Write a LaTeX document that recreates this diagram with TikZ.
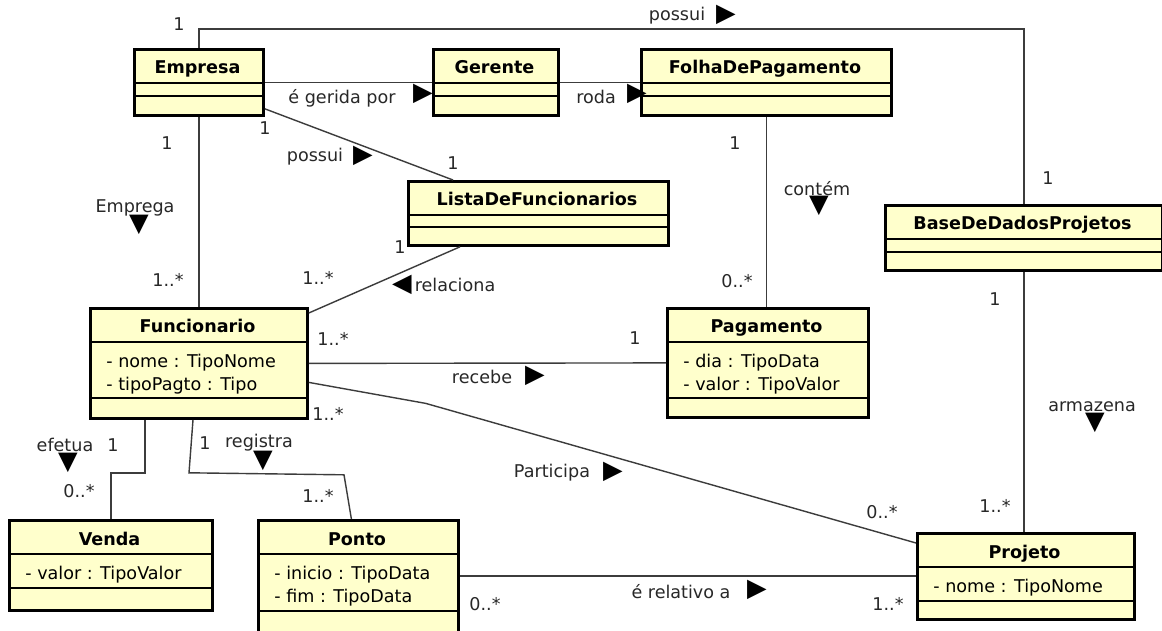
\documentclass[tikz,border=0pt]{standalone}
\usepackage{fontspec}
\setmainfont{DejaVu Sans}
\usetikzlibrary{calc}

\definecolor{classfill}{RGB}{255,255,204}
\definecolor{linegrey}{RGB}{60,60,60}
\definecolor{textgrey}{RGB}{40,40,40}

\tikzset{
    classbox/.style={draw=black, line width=1.6pt, fill=classfill, inner sep=0pt},
    classsep/.style={draw=black, line width=0.6pt},
    classname/.style={anchor=base, inner sep=0pt, font=\fontsize{10}{12}\selectfont\bfseries},
    classattr/.style={anchor=north west, inner sep=0pt, align=left, font=\fontsize{10}{12.8}\selectfont},
    assoc/.style={draw=linegrey, line width=0.8pt},
    mult/.style={inner sep=0pt, text=textgrey, font=\fontsize{10}{12}\selectfont},
    assocname/.style={mult},
    dirmark/.style={inner sep=0pt, font=\fontsize{14.5}{14.5}\selectfont},
}

% name, left, top, right, bottom, title, lower separator, attributes
\newcommand{\umlclass}[8]{%
    \node[classbox, anchor=north west, minimum width={(#4-#2)*0.02cm}, minimum height={(#5-#3)*0.02cm}] (#1) at (#2,#3) {};
    \draw[classsep] (#2,#3+35) -- (#4,#3+35) (#2,#7) -- (#4,#7);
    \node[classname] (#1-name) at ({(#2+#4)/2},#3+26) {#6};
    \node[classattr] (#1-attr) at (#2+17,#3+47) {#8};
}

\begin{document}
\begin{tikzpicture}[x=0.02cm, y=-0.02cm]
    \useasboundingbox[fill=white] (0,0) rectangle (1162,631);

    \umlclass{empresa}{133}{48}{262}{114}{Empresa}{96}{}
    \umlclass{gerente}{432}{48}{557}{114}{Gerente}{96}{}
    \umlclass{folha}{640}{48}{890}{114}{FolhaDePagamento}{96}{}
    \umlclass{lista}{407}{180}{667}{244}{ListaDeFuncionarios}{227}{}
    \umlclass{basedados}{884}{204}{1161}{269}{BaseDeDadosProjetos}{252}{}
    \umlclass{funcionario}{89}{307}{306}{417}{Funcionario}{398}{- nome : TipoNome\\- tipoPagto : Tipo}
    \umlclass{pagamento}{666}{307}{867}{416}{Pagamento}{398}{- dia : TipoData\\- valor : TipoValor}
    \umlclass{venda}{8}{519}{211}{609}{Venda}{588}{- valor : TipoValor}
    \umlclass{ponto}{257}{519}{457}{645}{Ponto}{611}{- inicio : TipoData\\- fim : TipoData}
    \umlclass{projeto}{916}{532}{1133}{618}{Projeto}{601}{- nome : TipoNome}

    \draw[assoc] (empresa.north) -- ++(0,-19) -| (basedados.north);
    \draw[assoc] (empresa.east) -- (gerente.west);
    \draw[assoc] (gerente.east) -- (folha.west);
    \draw[assoc] ($(empresa.south east)+(0,-8)$) -- ($(lista.north west)+(46,0)$);
    \draw[assoc] (empresa.south) -- (funcionario.north);
    \draw[assoc] ($(lista.south west)+(53,0)$) -- ($(funcionario.north east)+(0,6)$);
    \draw[assoc] (folha.south) -- (folha.south |- pagamento.north);
    \draw[assoc] (basedados.south) -- (basedados.south |- projeto.north);
    \draw[assoc] (funcionario.east) -- (pagamento.west);
    \draw[assoc] ($(funcionario.east)+(0,19)$) -- ++(117,21) -- ($(projeto.north west)+(0,11)$);
    \draw[assoc] ($(funcionario.south west)+(56,0)$) -- ++(0,53) -| (venda.north);
    \draw[assoc] ($(funcionario.south west)+(104,0)$) -- ++(-4,53) -- ++(155,2) -- ($(ponto.north)+(-7,0)$);
    \draw[assoc] ($(ponto.north east)+(0,57)$) -- ($(projeto.north west)+(0,44)$);

    \node[mult] (m1) at (179,24) {1};
    \node[mult] (m2) at (1048,178) {1};
    \node[mult] (m3) at (265,128) {1};
    \node[mult] (m4) at (453,163) {1};
    \node[mult] (m5) at (167,143) {1};
    \node[mult] (m6) at (168,280) {1..*};
    \node[mult] (m7) at (400,247) {1};
    \node[mult] (m8) at (318,278) {1..*};
    \node[mult] (m9) at (735,143) {1};
    \node[mult] (m10) at (737,281) {0..*};
    \node[mult] (m11) at (995,299) {1};
    \node[mult] (m12) at (995,506) {1..*};
    \node[mult] (m13) at (333,339) {1..*};
    \node[mult] (m14) at (635,338) {1};
    \node[mult] (m15) at (328,414) {1..*};
    \node[mult] (m16) at (882,512) {0..*};
    \node[mult] (m17) at (113,445) {1};
    \node[mult] (m18) at (79,491) {0..*};
    \node[mult] (m19) at (205,443) {1};
    \node[mult] (m20) at (318,496) {1..*};
    \node[mult] (m21) at (485,604) {0..*};
    \node[mult] (m22) at (888,604) {1..*};

    \node[assocname] (a1) at (677,16) {possui};
    \node[dirmark] (d1) at (726,15) {▶};
    \node[assocname] (a2) at (342,98) {é gerida por};
    \node[dirmark] (d2) at (423,94) {▶};
    \node[assocname] (a3) at (596,97) {roda};
    \node[dirmark] (d3) at (637,94) {▶};
    \node[assocname] (a4) at (315,157) {possui};
    \node[dirmark] (d4) at (363,156) {▶};
    \node[assocname] (a5) at (135,208) {Emprega};
    \node[dirmark] (d5) at (139,225) {▼};
    \node[assocname] (a6) at (455,285) {relaciona};
    \node[dirmark] (d6) at (402,285) {◀};
    \node[assocname] (a7) at (817,189) {contém};
    \node[dirmark] (d7) at (819,206) {▼};
    \node[assocname] (a8) at (1092,407) {armazena};
    \node[dirmark] (d8) at (1095,423) {▼};
    \node[assocname] (a9) at (482,377) {recebe};
    \node[dirmark] (d9) at (535,376) {▶};
    \node[assocname] (a10) at (552,473) {Participa};
    \node[dirmark] (d10) at (613,472) {▶};
    \node[assocname] (a11) at (65,445) {efetua};
    \node[dirmark] (d11) at (68,463) {▼};
    \node[assocname] (a12) at (259,443) {registra};
    \node[dirmark] (d12) at (263,461) {▼};
    \node[assocname] (a13) at (681,592) {é relativo a};
    \node[dirmark] (d13) at (757,590) {▶};
\end{tikzpicture}
\end{document}
